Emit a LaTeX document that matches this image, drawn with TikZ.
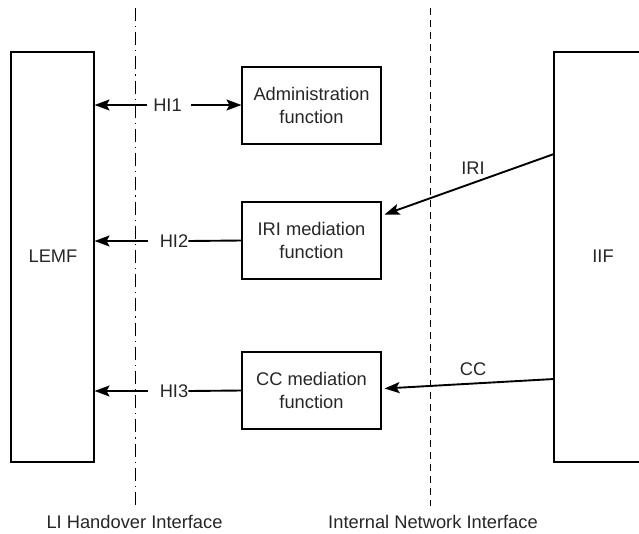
\documentclass[tikz,border=0pt]{standalone}
\usepackage{fontspec}
\setmainfont{Liberation Sans}
\usetikzlibrary{arrows.meta}
\begin{document}
\begin{tikzpicture}[x=1pt,y=-1pt,
  every node/.style={font=\fontsize{18.3}{22.5}\selectfont, text=black!85},
  box/.style={draw, line width=1.1pt, inner sep=0pt, align=center},
  arr/.style={line width=1.9pt, -{Stealth[length=15pt,width=11pt,inset=3pt]}},
  plain/.style={line width=1.9pt},
  dashdot/.style={line width=0.9pt, dash pattern=on 13pt off 5pt on 1.2pt off 5pt},
  dashline/.style={line width=0.9pt, dash pattern=on 7pt off 5pt},
  lbl/.style={inner sep=0pt}]
\useasboundingbox (0,0) rectangle (639,533);
% interface lines
\coordinate (lit) at (135,8);
\coordinate (lib) at (135,506);
\coordinate (nit) at (430,8);
\coordinate (nib) at (430,506);
\draw[dashdot] (lit) -- (lib);
\draw[dashline] (nit) -- (nib);
% boxes
\node[box, minimum width=83pt, minimum height=410pt] (lemf) at (52.5,257) {};
\node[lbl] (lemft) at (53,256) {LEMF};
\node[box, minimum width=98pt, minimum height=410pt] (iif) at (603,257) {};
\node[lbl] (iift) at (603,256) {IIF};
\node[box, minimum width=139pt, minimum height=77pt] (adm) at (311.5,105.5) {Administration\\function};
\node[box, minimum width=139pt, minimum height=77pt] (iri) at (311.5,240.5) {IRI mediation\\function};
\node[box, minimum width=139pt, minimum height=77pt] (cc) at (311.5,390.5) {CC mediation\\function};
% handover labels
\node[lbl] (hi1) at (167.5,105) {HI1};
\node[lbl] (hi2) at (174,241) {HI2};
\node[lbl] (hi3) at (174,391) {HI3};
\draw[arr] ([xshift=-6pt]hi1.west) -- (hi1.west -| lemf.east);
\draw[arr] ([xshift=9pt]hi1.east) -- (adm.west |- hi1.east);
\draw[arr] ([xshift=-12pt]hi2.west) -- (hi2.west -| lemf.east);
\draw[plain] (iri.west) -- (hi2.east);
\draw[arr] ([xshift=-12pt]hi3.west) -- (hi3.west -| lemf.east);
\draw[plain] (cc.west) -- (hi3.east);
% internal network arrows
\coordinate (iris) at (554,154);
\coordinate (irie) at ([xshift=3pt,yshift=26pt]iri.east);
\draw[arr] (iris) -- (irie);
\node[lbl] (iril) at (473,168) {IRI};
\coordinate (ccs) at (554,379);
\coordinate (cce) at ([xshift=3pt,yshift=2pt]cc.east);
\draw[arr] (ccs) -- (cce);
\node[lbl] (ccl) at (473,369) {CC};
% bottom labels
\node[lbl] (lih) at (134.5,522) {LI Handover Interface};
\node[lbl] (nii) at (433,522) {Internal Network Interface};
\end{tikzpicture}
\end{document}
